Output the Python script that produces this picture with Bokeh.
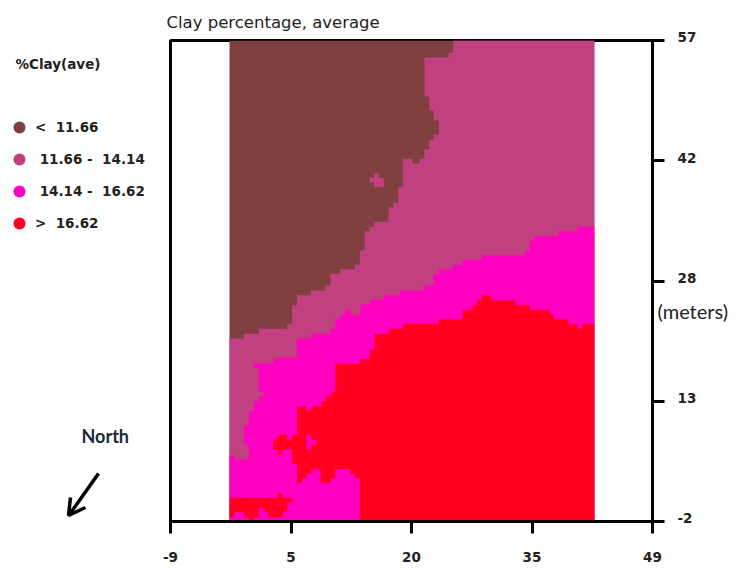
from bokeh.plotting import figure
from bokeh.layouts import row
from bokeh.models import FixedTicker, Label, Legend, LegendItem, LinearAxis
from bokeh.embed import file_html
from bokeh.resources import INLINE

x_ticks = [-9, 5.5, 20, 34.5, 49]
x_labels = ["-9", "5", "20", "35", "49"]
y_ticks = [-2, 12.75, 27.5, 42.25, 57]
y_labels = ["-2", "13", "28", "42", "57"]

classes = ["<\u00a0\u00a011.66", "\u00a011.66 -\u00a0\u00a014.14", "\u00a014.14 -\u00a0\u00a016.62", ">\u00a0\u00a016.62"]
colors = ["#804040", "#C04080", "#FF00C0", "#FF0020"]

brown_area = [(-1.9, 57), (42, 57), (42, -2), (-1.9, -2)]

rose_area = [(25.02,57),(25.02,55.49),(24.45,55.49),(24.45,54.91),(21.56,54.91),(21.56,50.13),(22.13,50.13),(22.13,48.41),
 (22.68,48.41),(22.68,47.19),(23.28,47.19),(23.28,45.43),(22.68,45.43),(22.68,44.86),(22.13,44.86),(22.13,43.67),(21.56,43.67),
 (21.56,42.49),(20.96,42.49),(20.96,41.91),(20.12,41.91),(20.12,42.49),(18.95,42.49),(18.95,39.01),(18.40,39.01),(18.40,37.13),
 (17.80,37.13),(17.80,36.55),(17.23,36.55),(17.23,34.76),(15.51,34.76),(15.51,34.19),(14.95,34.19),(14.95,33.61),(14.34,33.61),
 (14.34,31.24),(13.78,31.24),(13.78,29.52),(13.18,29.52),(13.18,28.95),(11.42,28.95),(11.42,28.38),(10.25,28.38),(10.25,26.95),
 (9.65,26.95),(9.65,26.34),(7.93,26.34),(7.93,25.76),(6.20,25.76),(6.20,24.53),(5.64,24.53),(5.64,22.25),(5.04,22.25),(5.04,21.64),
 (1.63,21.64),(1.63,21.02),(-0.18,21.02),(-0.18,20.45),(-1.9,20.45),(-1.9,-2),(42,-2),(42,57)]

rose_island = [(15.51,40.72),(16.07,40.72),(16.07,40.16),(16.67,40.16),(16.67,39.01),(15.51,39.01),(15.51,39.58),(14.95,39.58),(14.95,40.16),(15.51,40.16)]

magenta_area = [(42,34.19),(40.01,34.19),(40.01,33.61),(37.69,33.61),(37.69,33.0),(34.80,33.0),(34.80,32.43),(34.24,32.43),(34.24,31.24),
 (33.63,31.24),(33.63,30.67),(28.46,30.67),(28.46,30.10),(26.14,30.10),(26.14,29.49),(24.97,29.49),(24.97,28.91),(23.25,28.91),
 (23.25,28.30),(22.68,28.30),(22.68,26.95),(21.48,26.95),(21.48,26.34),(18.59,26.34),(18.59,25.76),(16.67,25.76),(16.67,25.19),
 (15.07,25.19),(15.07,24.62),(13.86,24.62),(13.86,23.39),(12.66,23.39),(12.66,23.97),(11.97,23.97),(11.97,23.39),(11.46,23.39),
 (11.46,22.82),(10.85,22.82),(10.85,21.64),(10.25,21.64),(10.25,21.02),(7.93,21.02),(7.93,20.45),(6.20,20.45),(6.20,18.08),(3.36,18.08),
 (3.36,17.42),(1.02,17.42),(1.02,16.85),(1.63,16.85),(1.63,13.86),(2.23,13.86),(2.23,13.33),(1.63,13.33),(1.63,12.76),(1.02,12.76),
 (1.02,11.53),(0.42,11.53),(0.42,9.78),(-0.18,9.78),(-0.18,7.41),(0.42,7.41),(0.42,5.60),(-1.30,5.60),(-1.30,6.09),(-1.9,6.09),(-1.9,-2),(42,-2)]

red_area = [(42,22.25),(40.58,22.25),(40.58,21.64),(40.01,21.64),(40.01,22.20),(38.86,22.20),(38.86,22.78),(37.12,22.78),(37.12,23.39),
 (36.57,23.39),(36.57,23.97),(34.24,23.97),(34.24,24.53),(32.51,24.53),(32.51,25.11),(29.59,25.11),(29.59,25.72),(28.46,25.72),(28.46,25.11),
 (27.86,25.11),(27.86,24.53),(27.30,24.53),(27.30,23.97),(26.14,23.97),(26.14,22.78),(23.28,22.78),(23.28,22.25),(19.0,22.25),(19.0,21.64),
 (17.27,21.64),(17.27,21.02),(15.55,21.02),(15.55,19.06),(14.98,19.06),(14.98,17.91),(13.86,17.91),(13.86,17.34),(10.85,17.34),(10.85,13.86),
 (10.25,13.86),(10.25,13.33),(9.69,13.33),(9.69,12.76),(9.13,12.76),(9.13,12.11),(7.93,12.11),(7.93,11.53),(7.36,11.53),(7.36,12.11),(6.25,12.11),
 (6.25,8.63),(5.64,8.63),(5.64,8.02),(5.04,8.02),(5.04,8.63),(3.91,8.63),(3.91,8.02),(3.36,8.02),(3.36,6.83),(3.91,6.83),(3.91,6.22),(4.48,6.22),
 (4.48,6.83),(5.64,6.83),(5.64,5.08),(6.25,5.08),(6.25,2.75),(6.80,2.75),(6.80,3.31),(7.36,3.31),(7.36,3.85),(7.93,3.85),(7.93,4.42),(9.05,4.42),
 (9.05,2.75),(10.25,2.75),(10.25,3.31),(10.82,3.31),(10.82,4.42),(12.66,4.42),(12.66,3.85),(13.21,3.85),(13.21,3.31),(13.78,3.31),(13.78,-2),(42,-2)]

red_corner = [(-1.9,0.91),(3.91,0.91),(3.91,1.47),(4.48,1.47),(4.48,0.91),(5.64,0.91),(5.64,0.33),(5.04,0.33),(5.04,-0.86),(4.48,-0.86),(4.48,-1.47),
 (2.76,-1.47),(2.76,-0.86),(2.19,-0.86),(2.19,-0.28),(1.63,-0.28),(1.63,-1.47),(1.02,-1.47),(1.02,-1.96),(0.42,-1.96),(0.42,-1.47),(-0.18,-1.47),
 (-0.18,-0.86),(-1.30,-0.86),(-1.30,-1.47),(-1.9,-1.47)]

magenta_hole = [(7.36,8.63),(7.93,8.63),(7.93,8.02),(8.53,8.02),(8.53,7.41),(7.93,7.41),(7.93,6.83),(7.36,6.83)]

regions = [(brown_area, 0), (rose_area, 1), (rose_island, 1), (magenta_area, 2), (red_area, 3), (red_corner, 3), (magenta_hole, 2)]

TICK_FONT = "DejaVu Sans"
INK = "#222222"

# ---------- map panel ----------
p = figure(width=576, height=566, x_range=(-9, 49), y_range=(-2, 57), output_backend="svg", toolbar_location=None,
           y_axis_location="right", min_border_left=10, min_border_right=84, min_border_top=40, min_border_bottom=45,
           background_fill_color="white", border_fill_color="white")
p.grid.visible = False

for pts, k in regions:
    p.patch([a for a, _ in pts], [b for _, b in pts], fill_color=colors[k], line_color=None)

p.outline_line_color = "black"
p.outline_line_width = 3
p.outline_line_alpha = 1

for ax, ticks, labels in [(p.xaxis[0], x_ticks, x_labels), (p.yaxis[0], y_ticks, y_labels)]:
    ax.ticker = FixedTicker(ticks=ticks)
    ax.major_label_overrides = dict(zip(ticks, labels))
    ax.axis_line_color = "black"
    ax.axis_line_width = 3
    ax.major_tick_line_color = "black"
    ax.major_tick_line_width = 3
    ax.major_tick_out = 12
    ax.major_tick_in = 0
    ax.minor_tick_line_color = None
    ax.major_label_text_font = TICK_FONT
    ax.major_label_text_font_size = "13.5px"
    ax.major_label_text_font_style = "bold"
    ax.major_label_text_color = INK
p.xaxis[0].major_label_standoff = 18
p.yaxis[0].major_label_standoff = 13
# a blank second line lifts the value slightly above its tick, as in the reference
p.yaxis[0].major_label_overrides = {t: s + "\n" for t, s in zip(y_ticks, y_labels)}
p.yaxis[0].major_label_text_line_height = 0.4

# a blank leading block drops the horizontal axis title below the "28" label
meters_axis = LinearAxis(ticker=FixedTicker(ticks=[]), axis_line_color=None,
                         major_tick_line_color=None, minor_tick_line_color=None,
                         axis_label="\n\n(meters)", axis_label_orientation="horizontal", axis_label_standoff=-42,
                         axis_label_text_font="Lato", axis_label_text_font_size="20px", axis_label_text_line_height=1.23,
                         axis_label_text_font_style="normal", axis_label_text_color=INK)
p.add_layout(meters_axis, "right")

p.title.text = "Clay percentage, average"
p.title.text_font = "DejaVu Sans"
p.title.text_font_size = "16.5px"
p.title.text_font_style = "normal"
p.title.text_color = INK
p.title.offset = -4
p.title.standoff = 18
p.title.text_line_height = 0.85

# ---------- legend panel (its frame lines up with the map's frame) ----------
side_w = 160
side_top, side_bottom = 40, 521
q = figure(width=side_w, height=566, x_range=(0, side_w), y_range=(side_bottom, side_top), output_backend="svg", toolbar_location=None,
           x_axis_location=None, y_axis_location=None, min_border=0, outline_line_color=None,
           background_fill_color="white", border_fill_color="white")
q.grid.visible = False

items = []
for name, c in zip(classes, colors):
    r = q.scatter([float("nan")], [float("nan")], size=12, marker="circle", fill_color=c, line_color=None)
    items.append(LegendItem(label=name, renderers=[r]))
leg = Legend(items=items, location=(4, 283), glyph_width=30, glyph_height=30, spacing=2, padding=0, margin=0,
             label_standoff=1, border_line_color=None, background_fill_alpha=0,
             label_text_font=TICK_FONT, label_text_font_size="13.5px", label_text_font_style="bold", label_text_color=INK)
q.add_layout(leg, "center")

q.add_layout(Label(x=15, y=63, text="%Clay(ave)", text_font=TICK_FONT, text_font_size="13.5px", text_font_style="bold",
                   text_color=INK, text_baseline="middle"))
q.add_layout(Label(x=81, y=435, text="North", text_font="Lato", text_font_size="18px", text_font_style="bold",
                   text_color="#1a2a3a", text_baseline="middle"))

arrow_shaft_x, arrow_shaft_y = [98, 69], [473, 514]
arrow_head_x, arrow_head_y = [70, 68, 85], [497, 515, 507]
q.line(arrow_shaft_x, arrow_shaft_y, line_color="black", line_width=3.5)
q.line(arrow_head_x, arrow_head_y, line_color="black", line_width=3.5)

open("out.html", "w").write(file_html(row(q, p, spacing=0), INLINE))
